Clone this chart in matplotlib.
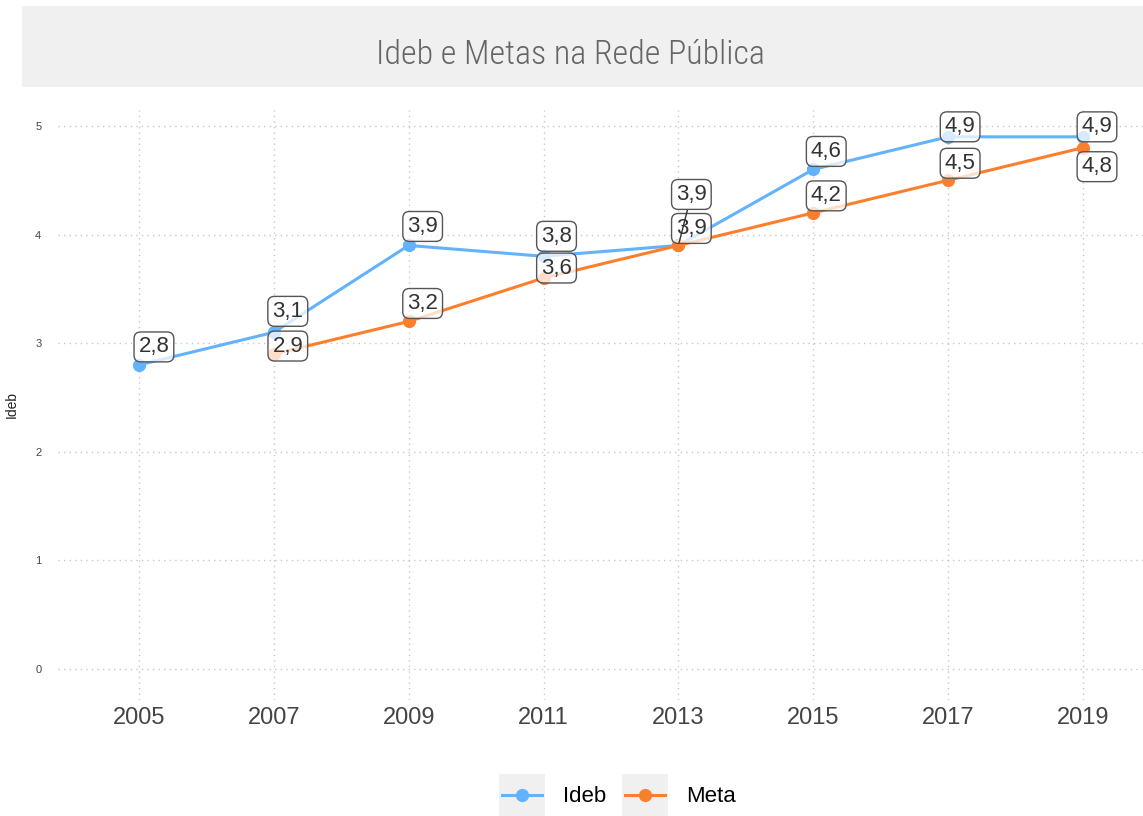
import numpy as np
import matplotlib
matplotlib.use("Agg")
import matplotlib.pyplot as plt
from matplotlib.patches import Rectangle

# Ideb da rede pública e metas projetadas
anos = [2005, 2007, 2009, 2011, 2013, 2015, 2017, 2019]
ideb = [2.8, 3.1, 3.9, 3.8, 3.9, 4.6, 4.9, 4.9]
anos_meta = [2007, 2009, 2011, 2013, 2015, 2017, 2019]
meta = [2.9, 3.2, 3.6, 3.9, 4.2, 4.5, 4.8]
yticks = [0, 1, 2, 3, 4, 5]

# deslocamento dos rótulos (pixels) em relação ao ponto
off_ideb = [(15, 18), (14, 21), (14, 19), (13, 20), (13, 51), (13, 18), (12, 10), (14, 10)]
off_meta = [(14, 8), (14, 18), (13, 10), (13, 17), (13, 17), (12, 17), (14, -19)]

AZUL = '#62b2fd'
LARANJA = '#fd7f2c'
W, H = 1143, 816

plt.rcParams['font.family'] = ['Liberation Sans', 'DejaVu Sans']

fig = plt.figure(figsize=(W / 100, H / 100), dpi=100)

# faixa do título
fig.patches.append(Rectangle((22 / W, 1 - 87 / H), (W - 22) / W, 81 / H,
                             transform=fig.transFigure, fc='#f0f0f0', ec='none', zorder=0))
fig.text(570 / W, 1 - 55 / H, 'Ideb e Metas na Rede Pública', ha='center', va='center',
         fontsize=24.5, color='#666666', fontweight='light',
         family=['Roboto Condensed', 'Liberation Sans Narrow', 'Liberation Sans', 'DejaVu Sans'])

ax = fig.add_axes([58 / W, (H - 700) / H, (W - 58) / W, 590 / H])
ax.set_xlim(2003.8, 2019.89)
ax.set_ylim(-0.285, 5.147)
for s in ax.spines.values():
    s.set_visible(False)
ax.set_xticks(anos)
ax.set_yticks(yticks)
ax.grid(True, color='#c8c8c8', linestyle=(0, (1, 3)), linewidth=1)
ax.tick_params(length=0)
ax.tick_params(axis='x', labelsize=17, labelcolor='#444444', pad=5)
ax.tick_params(axis='y', labelsize=8, labelcolor='#444444', pad=12)
ax.set_ylabel('Ideb', fontsize=10, color='#222222', labelpad=12)

l1, = ax.plot(anos, ideb, color=AZUL, lw=2.2, marker='o', ms=8.5, zorder=3, label='Ideb')
l2, = ax.plot(anos_meta, meta, color=LARANJA, lw=2.2, marker='o', ms=8.5, zorder=3, label='Meta')

def rotulos(xs, ys, offs, z):
    for x, y, (dx, dy) in zip(xs, ys, offs):
        seta = None
        if abs(dy) > 30:
            seta = dict(arrowstyle='-', color='#333333', lw=1, shrinkA=0, shrinkB=2)
        ax.annotate(f'{y:.1f}'.replace('.', ','), (x, y), xytext=(dx, dy),
                    textcoords='offset pixels', ha='center', va='center',
                    fontsize=16, color='#333333', zorder=z, arrowprops=seta,
                    bbox=dict(boxstyle='round,pad=0.2,rounding_size=0.3',
                              fc=(1, 1, 1, 0.75), ec='#555555', lw=1))

rotulos(anos_meta, meta, off_meta, 5)
rotulos(anos, ideb, off_ideb, 6)

leg = fig.legend(handles=[l1, l2], loc='center', bbox_to_anchor=(619 / W, 1 - 797 / H),
                 ncol=2, frameon=False, fontsize=16, handlelength=1.8,
                 columnspacing=0.85, handletextpad=0.95)

# fundo cinza das chaves da legenda
fig.canvas.draw()
for h in leg.legend_handles:
    bb = h.get_window_extent(fig.canvas.get_renderer())
    cx = (bb.x0 + bb.x1) / 2
    fig.patches.append(Rectangle(((cx - 23) / W, 0), 46 / W, 42 / H,
                                 transform=fig.transFigure, fc='#f0f0f0', ec='none', zorder=0))

fig.savefig('out.png', dpi=100)
